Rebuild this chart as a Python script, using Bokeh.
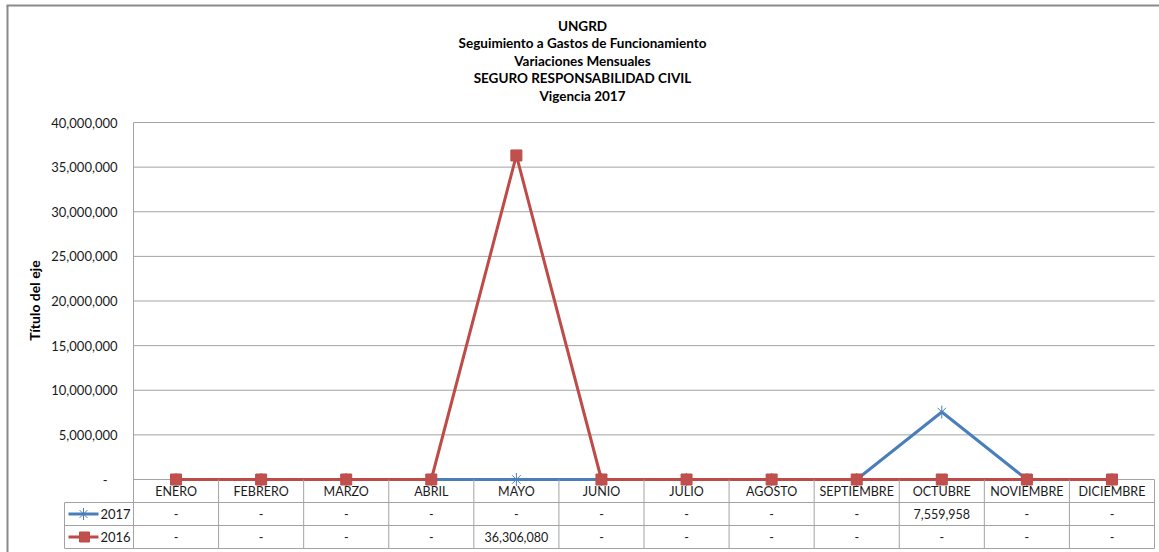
import math

from bokeh.core.properties import value
from bokeh.embed import file_html
from bokeh.models import ColumnDataSource, Range1d
from bokeh.plotting import figure
from bokeh.resources import INLINE

# ---- data -------------------------------------------------------------
months = ["ENERO", "FEBRERO", "MARZO", "ABRIL", "MAYO", "JUNIO", "JULIO",
          "AGOSTO", "SEPTIEMBRE", "OCTUBRE", "NOVIEMBRE", "DICIEMBRE"]
gasto_2017 = [0, 0, 0, 0, 0, 0, 0, 0, 0, 7559958, 0, 0]
gasto_2016 = [0, 0, 0, 0, 36306080, 0, 0, 0, 0, 0, 0, 0]
series_names = ["2017", "2016"]
y_ticks = [0, 5000000, 10000000, 15000000, 20000000,
           25000000, 30000000, 35000000, 40000000]
title_lines = ["UNGRD",
               "Seguimiento a Gastos de Funcionamiento",
               "Variaciones Mensuales",
               "SEGURO RESPONSABILIDAD CIVIL",
               "Vigencia 2017"]
axis_title = "Título del eje"

# ---- geometry (pixels) ---------------------------------------------------
W, H = 1159, 552
LEFT, RIGHT_EDGE = 133, 1154          # plot area / table columns
TOP, ZERO_Y = 122, 479                # top tick and zero line
ROW_PX = 23                           # table row height

n = len(months)
col_w = (RIGHT_EDGE - LEFT) / n
y_max = y_ticks[-1]
upp = y_max / (ZERO_Y - TOP)          # data units per vertical pixel
row_h = ROW_PX * upp


def dx(px):
    return (px - LEFT) / col_w


def dy(py):
    return (ZERO_Y - py) * upp


FONT = "Lato"
TEXT = "#1a1a1a"
GRID = "#a3a3a3"
BLUE = "#4a7ebb"
RED = "#be4b48"
RED_FILL = "#c0504d"

# The frame spans the whole canvas; month columns are one unit wide and
# the vertical scale is in pesos.
p = figure(width=W, height=H, output_backend="svg", toolbar_location=None,
           tools="", title=None, x_axis_location=None, y_axis_location=None,
           x_range=Range1d(dx(0), dx(W)), y_range=Range1d(dy(H), dy(0)),
           min_border=0)
p.outline_line_color = None
p.background_fill_color = "white"
p.border_fill_color = "white"
p.grid.visible = False

# ---- chart area frame ---------------------------------------------------
p.segment(x0=[dx(7), dx(6)], y0=[dy(5), dy(5)], x1=[dx(7), dx(W + 10)],
          y1=[dy(H + 10), dy(5)], line_color="#8a8a8a", line_width=2)

# ---- value axis: gridlines, axis line, tick labels ------------------------
p.segment(x0=[0] * len(y_ticks), x1=[n] * len(y_ticks), y0=y_ticks, y1=y_ticks,
          line_color=GRID, line_width=1)
p.segment(x0=[0], x1=[0], y0=[y_max], y1=[-3 * row_h],
          line_color=GRID, line_width=1)


def tick_label(v):
    return f"{v:,}" if v else "-\u00a0\u00a0\u00a0"


p.text(x=[dx(117)] * len(y_ticks), y=y_ticks,
       text=[tick_label(v) for v in y_ticks],
       text_font=value(FONT), text_font_size="13px", text_color=TEXT,
       text_align="right", text_baseline="middle")

p.text(x=[dx(34)], y=[dy(300)], text=[axis_title], angle=math.pi / 2,
       text_font=value(FONT), text_font_size="14px", text_font_style="bold",
       text_color="black", text_align="center", text_baseline="middle")

# ---- titles ---------------------------------------------------------------
p.text(x=[dx(582)] * len(title_lines),
       y=[dy(py) for py in [25, 42, 60, 77, 95]], text=title_lines,
       text_font=value(FONT), text_font_size="13.5px", text_font_style="bold",
       text_color="black", text_align="center", text_baseline="middle")

# ---- series --------------------------------------------------------------
src = ColumnDataSource(dict(x=[i + 0.5 for i in range(n)],
                            y17=gasto_2017, y16=gasto_2016))

p.line("x", "y17", source=src, line_color=BLUE, line_width=3,
       line_join="round")
p.scatter("x", "y17", source=src, marker="x", size=12,
          line_color=BLUE, line_width=1)
p.scatter("x", "y17", source=src, marker="dash", angle=math.pi / 2,
          size=13, line_color=BLUE, line_width=1)

p.line("x", "y16", source=src, line_color=RED, line_width=3,
       line_join="round")
p.scatter("x", "y16", source=src, marker="square", size=11,
          fill_color=RED_FILL, line_color=RED, line_width=1)

# ---- data table under the plot ---------------------------------------------
edges = list(range(1, n + 1))
p.segment(x0=edges, y0=[0] * len(edges), x1=edges, y1=[-3 * row_h] * len(edges),
          line_color=GRID, line_width=1)
rows_y = [-row_h, -2 * row_h, -3 * row_h]
p.segment(x0=[dx(64)] * 3, x1=[n] * 3, y0=rows_y, y1=rows_y,
          line_color=GRID, line_width=1)
p.segment(x0=[dx(64)], x1=[dx(64)], y0=[-row_h], y1=[-3 * row_h],
          line_color=GRID, line_width=1)

centers = [i + 0.5 for i in range(n)]
text_kw = dict(text_font=value(FONT), text_font_size="12.5px", text_color=TEXT,
               text_align="center", text_baseline="middle")
p.text(x=centers, y=[-0.5 * row_h] * n, text=months, **text_kw)


def cell(v):
    return f"{v:,}" if v else "-"


p.text(x=centers, y=[-1.5 * row_h] * n, text=[cell(v) for v in gasto_2017], **text_kw)
p.text(x=centers, y=[-2.5 * row_h] * n, text=[cell(v) for v in gasto_2016], **text_kw)

# series keys in the first table column
key_y = [-1.5 * row_h, -2.5 * row_h]
p.segment(x0=[dx(68)], x1=[dx(98)], y0=[key_y[0]], y1=[key_y[0]],
          line_color=BLUE, line_width=3)
p.scatter(x=[dx(83)], y=[key_y[0]], marker="x", size=11, line_color=BLUE,
          line_width=1)
p.scatter(x=[dx(83)], y=[key_y[0]], marker="dash", angle=math.pi / 2, size=12,
          line_color=BLUE, line_width=1)
p.segment(x0=[dx(68)], x1=[dx(98)], y0=[key_y[1]], y1=[key_y[1]],
          line_color=RED, line_width=3)
p.scatter(x=[dx(84)], y=[key_y[1]], marker="square", size=10,
          fill_color=RED_FILL, line_color=RED, line_width=1)
p.text(x=[dx(100)] * 2, y=key_y, text=series_names,
       text_font=value(FONT), text_font_size="13px", text_color=TEXT,
       text_align="left", text_baseline="middle")

open("out.html", "w").write(file_html(p, INLINE))
